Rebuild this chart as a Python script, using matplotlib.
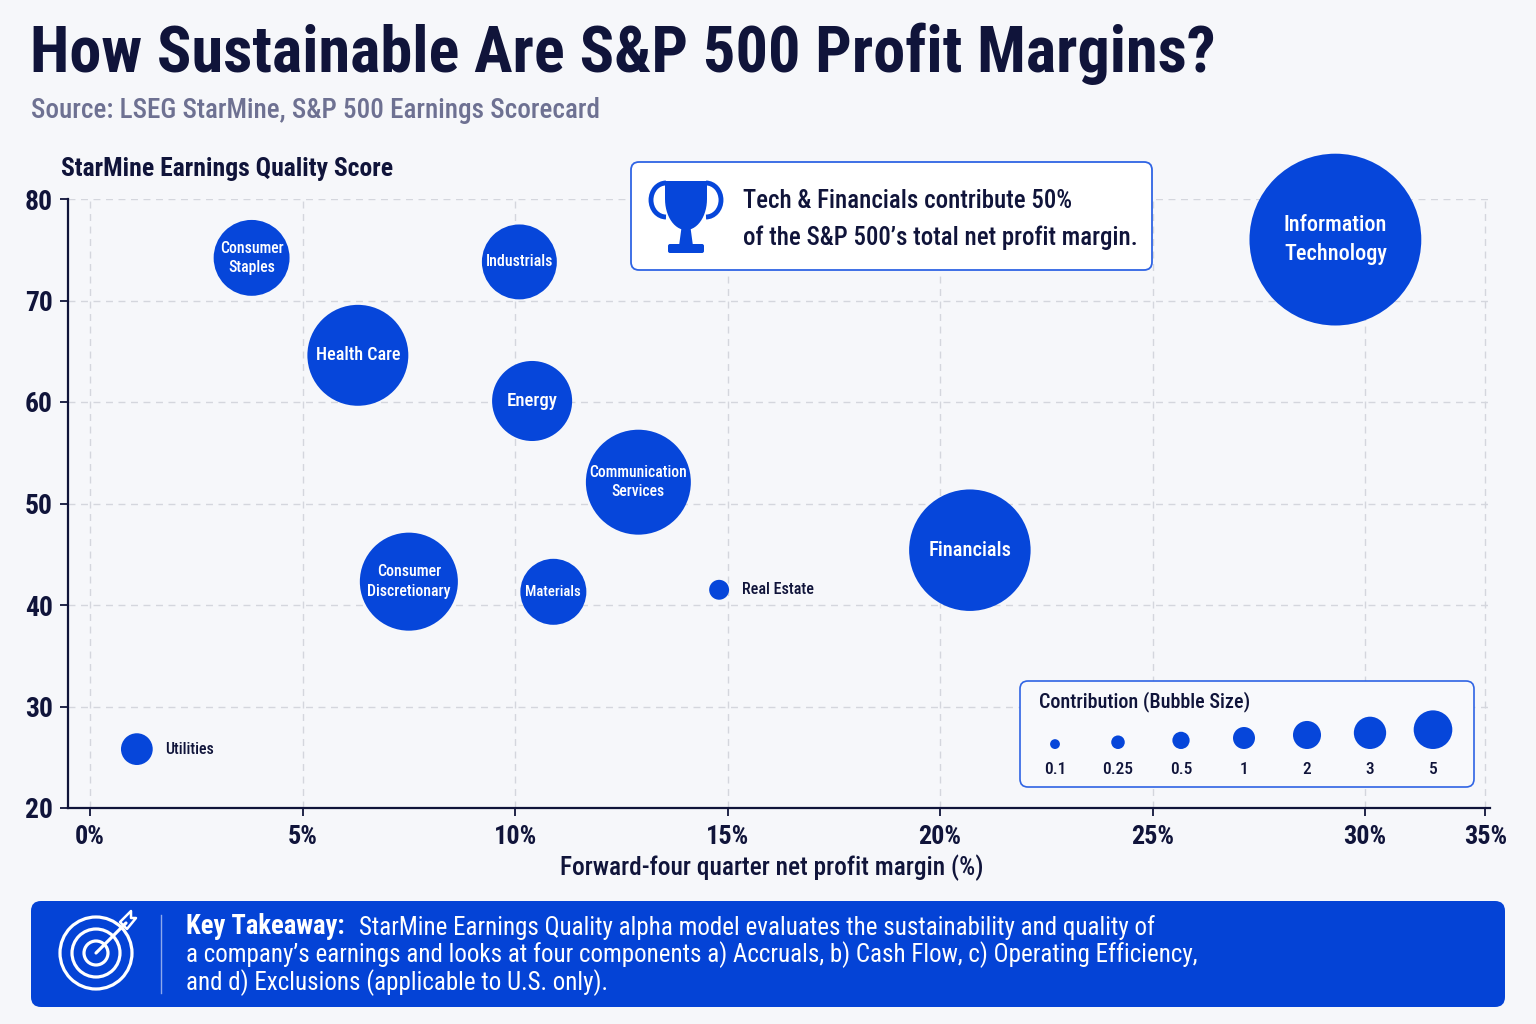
import numpy as np
import matplotlib
matplotlib.use("Agg")
import matplotlib.pyplot as plt
from matplotlib.patches import FancyBboxPatch, Circle, Arc, Polygon

# ---------------- data ----------------
sectors = ["Information\nTechnology", "Financials", "Communication\nServices", "Health Care",
           "Consumer\nDiscretionary", "Energy", "Industrials", "Consumer\nStaples",
           "Materials", "Real Estate", "Utilities"]
margin = [29.3, 20.7, 12.9, 6.3, 7.5, 10.4, 10.1, 3.8, 10.9, 14.8, 1.1]
quality = [76.0, 45.4, 52.1, 64.6, 42.3, 60.1, 73.8, 74.2, 41.3, 41.5, 25.8]
contribution = [8.2, 4.1, 3.06, 2.83, 2.67, 1.78, 1.56, 1.6, 1.21, 0.11, 0.28]
legend_values = [0.1, 0.25, 0.5, 1, 2, 3, 5]
legend_labels = ["0.1", "0.25", "0.5", "1", "2", "3", "5"]
x_ticks = [0, 5, 10, 15, 20, 25, 30, 35]
y_ticks = [20, 30, 40, 50, 60, 70, 80]

title = "How Sustainable Are S&P 500 Profit Margins?"
subtitle = "Source: LSEG StarMine, S&P 500 Earnings Scorecard"
y_label = "StarMine Earnings Quality Score"
x_label = "Forward-four quarter net profit margin (%)"
callout = ["Tech & Financials contribute 50%", "of the S&P 500\u2019s total net profit margin."]
takeaway_head = "Key Takeaway:"
takeaway = ["StarMine Earnings Quality alpha model evaluates the sustainability and quality of",
            "a company\u2019s earnings and looks at four components a) Accruals, b) Cash Flow, c) Operating Efficiency,",
            "and d) Exclusions (applicable to U.S. only)."]

# label widths (px) in reference, for fitting
label_w = [104, 83, 98, 84, 84, 51, 68, 64, 56, 72, 49]

# ---------------- style ----------------
FAM = ['Roboto Condensed', 'Roboto', 'DejaVu Sans']
plt.rcParams['font.family'] = FAM
NAVY = '#10143A'
BLUE = '#0646DA'
BANNER = '#0443D6'
BG = '#F6F7FA'
GRID = '#D4D6DD'

W, H = 1536, 1024
fig = plt.figure(figsize=(15.36, 10.24), dpi=100, facecolor=BG)

L, R, T, B = 68, 1490, 199, 808
ax = fig.add_axes([L / W, 1 - B / H, (R - L) / W, (B - T) / H], facecolor=BG, zorder=1)


def fwd(x):
    x = np.asarray(x, dtype=float)
    return np.where(x <= 30, x, 30 + (x - 30) * 0.565)


def inv(y):
    y = np.asarray(y, dtype=float)
    return np.where(y <= 30, y, 30 + (y - 30) / 0.565)


ax.set_xscale('function', functions=(fwd, inv))
ax.set_xlim(-0.52, 35.2)
ax.set_ylim(20, 80)
ax.set_xticks(x_ticks)
ax.set_xticklabels([f"{t}%" for t in x_ticks])
ax.set_yticks(y_ticks)
ax.set_yticklabels([str(t) for t in y_ticks])
ax.xaxis.set_minor_locator(matplotlib.ticker.NullLocator())
ax.grid(True, ls=(0, (5, 4)), color=GRID, lw=1.0, zorder=0)
ax.set_axisbelow(True)
for s in ['top', 'right']:
    ax.spines[s].set_visible(False)
for s in ['left', 'bottom']:
    ax.spines[s].set_color(NAVY)
    ax.spines[s].set_linewidth(1.6)
ax.tick_params(axis='both', direction='out', length=6, width=1.3, color=NAVY,
               labelcolor=NAVY, labelsize=19)
ax.tick_params(axis='y', pad=5)
ax.tick_params(axis='x', pad=6)
for lab in ax.get_xticklabels() + ax.get_yticklabels():
    lab.set_fontweight('semibold')

# bubbles
PX2PT = 72 / 100
radii_px = [30 * np.sqrt(v) for v in contribution]
sizes = [(2 * r * PX2PT) ** 2 for r in radii_px]
ax.scatter(margin, quality, s=sizes, color=BLUE, edgecolors='none', clip_on=False, zorder=3)

bubble_texts = []
for name, x, y, v, r in zip(sectors, margin, quality, contribution, radii_px):
    if v >= 0.5:
        t = ax.text(x, y, name, ha='center', va='center', color='white', fontsize=13,
                    fontweight='medium', multialignment='center', linespacing=1.38,
                    zorder=4, clip_on=False)
    else:
        t = ax.annotate(name, (x, y), xytext=(r * PX2PT + 9, 0), textcoords='offset points',
                        ha='left', va='center', color=NAVY, fontsize=12, fontweight='medium',
                        zorder=4)
    bubble_texts.append(t)

# ---------------- decoration layer (pixel coords) ----------------
dx = fig.add_axes([0, 0, 1, 1], zorder=2)
dx.set_xlim(0, W)
dx.set_ylim(H, 0)
dx.axis('off')
dx.patch.set_alpha(0)

t_title = dx.text(30, 72, title, fontsize=40, fontweight='bold', color=NAVY, ha='left', va='baseline')
t_sub = dx.text(31, 118, subtitle, fontsize=16, fontweight='medium', color='#6E7192',
                ha='left', va='baseline')
t_ylab = dx.text(61, 176, y_label, fontsize=15, fontweight='semibold', color=NAVY,
                 ha='left', va='baseline')
t_xlab = dx.text(772, 875, x_label, fontsize=15, fontweight='medium', color=NAVY,
                 ha='center', va='baseline')

# callout box with trophy
dx.add_patch(FancyBboxPatch((631, 162), 521, 108, boxstyle='round,pad=0,rounding_size=8',
                            fc='white', ec='#2F64E4', lw=1.3))
ang = np.linspace(0, np.pi, 30)
bowl = [(665, 181), (707, 181)] + [(686 + 21 * np.cos(a), 199 + 31 * np.sin(a)) for a in ang]
dx.add_patch(Polygon(bowl, closed=True, fc=BLUE, ec='none'))
dx.add_patch(Polygon([(682, 224), (690, 224), (693, 246), (679, 246)], closed=True, fc=BLUE, ec='none'))
dx.add_patch(FancyBboxPatch((668, 244), 36, 9, boxstyle='round,pad=0,rounding_size=2', fc=BLUE, ec='none'))
dx.add_patch(Arc((666, 200), 30, 34, theta1=90, theta2=270, color=BLUE, lw=3.5))
dx.add_patch(Arc((706, 200), 30, 34, theta1=-90, theta2=90, color=BLUE, lw=3.5))
t_c1 = dx.text(743, 208, callout[0], fontsize=16, fontweight='medium', color=NAVY,
               ha='left', va='baseline')
t_c2 = dx.text(743, 245, callout[1], fontsize=16, fontweight='medium', color=NAVY,
               ha='left', va='baseline')

# size legend
dx.add_patch(FancyBboxPatch((1020, 681), 454, 106, boxstyle='round,pad=0,rounding_size=8',
                            fc='#F8F9FC', ec='#2F64E4', lw=1.2))
t_leg = dx.text(1039, 707, "Contribution (Bubble Size)", fontsize=13, fontweight='medium',
                color=NAVY, ha='left', va='baseline')
leg_x = np.linspace(1055, 1433, len(legend_values))
leg_r = [11 * v ** 0.35 for v in legend_values]
leg_y = [749 - r for r in leg_r]
dx.scatter(leg_x, leg_y, s=[(2 * r * PX2PT) ** 2 for r in leg_r], color=BLUE, edgecolors='none')
for xx, lab in zip(leg_x, legend_labels):
    dx.text(xx, 770, lab, fontsize=12.5, fontweight='medium', color=NAVY, ha='center', va='center')

# key takeaway banner
dx.add_patch(FancyBboxPatch((31, 901), 1474, 106, boxstyle='round,pad=0,rounding_size=10',
                            fc=BANNER, ec='none'))
for rr in (36, 24, 12):
    dx.add_patch(Circle((96, 953), rr, fc='none', ec='white', lw=2.3))
dx.plot([96, 126], [953, 923], color='white', lw=2.3, solid_capstyle='round')
dx.add_patch(Polygon([(120, 922), (131, 911), (131, 918), (136, 918), (127, 929)], closed=True,
                     fc='none', ec='white', lw=1.8, joinstyle='round'))
dx.plot([161, 161], [915, 993], color='white', lw=1.0, alpha=0.55)
t_k = dx.text(186, 934, takeaway_head, fontsize=16, fontweight='bold', color='white',
              ha='left', va='baseline')
t_k1 = dx.annotate(takeaway[0], xy=(1, 0), xycoords=t_k, xytext=(10, 0), textcoords='offset points',
                   fontsize=16, color='white', ha='left', va='bottom')
t_k2 = dx.text(186, 962, takeaway[1], fontsize=16, color='white', ha='left', va='baseline')
t_k3 = dx.text(186, 990, takeaway[2], fontsize=16, color='white', ha='left', va='baseline')

# ---------------- fit text widths to reference ----------------
fig.canvas.draw()
rend = fig.canvas.get_renderer()


def fit(t, w):
    bb = t.get_window_extent(renderer=rend)
    if bb.width > 0:
        t.set_fontsize(t.get_fontsize() * w / bb.width)


fit(t_title, 1183)
fit(t_sub, 570)
fit(t_ylab, 332)
fit(t_xlab, 425)
fit(t_c2, 396)
t_c1.set_fontsize(t_c2.get_fontsize())
fit(t_leg, 212)
fit(t_k2, 1012)
t_k1.set_fontsize(t_k2.get_fontsize())
t_k3.set_fontsize(t_k2.get_fontsize())
fit(t_k, 159)
for t, w in zip(bubble_texts, label_w):
    fit(t, w)

ylab = ax.get_yticklabels()[-1]
bb = ylab.get_window_extent(renderer=rend)
ax.tick_params(axis='y', labelsize=ylab.get_fontsize() * 28 / bb.width)
xlab = ax.get_xticklabels()[2]
bb = xlab.get_window_extent(renderer=rend)
ax.tick_params(axis='x', labelsize=xlab.get_fontsize() * 43 / bb.width)

fig.savefig("out.png", dpi=100, facecolor=BG)
